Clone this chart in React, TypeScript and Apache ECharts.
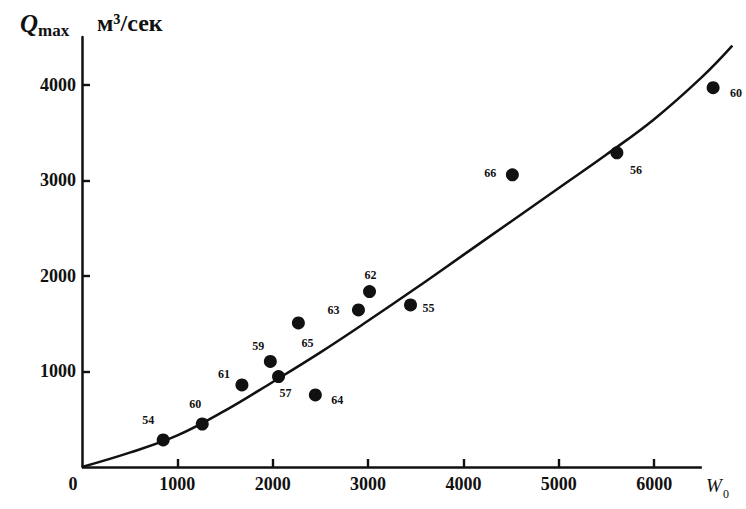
import React, { useEffect, useRef } from 'react';
import * as echarts from 'echarts';

// Observations: year labels, runoff volume W0, max discharge Qmax (m³/сек)
const pointNames = ['54', '60', '61', '59', '57', '65', '64', '63', '62', '55', '66', '56', '60'];
const pointW = [851, 1261, 1677, 1975, 2061, 2269, 2447, 2899, 3015, 3445, 4513, 5609, 6618];
const pointQ = [283, 450, 859, 1105, 946, 1508, 754, 1644, 1836, 1696, 3058, 3288, 3969];

// Fitted curve
const curveW = [0, 500, 1000, 1500, 2000, 2500, 3000, 3500, 4000, 4500, 5000, 5500, 6000, 6500, 6820];
const curveQ = [0, 150, 330, 590, 890, 1200, 1530, 1870, 2220, 2570, 2920, 3270, 3640, 4080, 4410];

// Axis tick labels
const xTickLabels = [0, 1000, 2000, 3000, 4000, 5000, 6000];
const xTicks = [1000, 2000, 3000, 4000, 5000, 6000];
const yTickLabels = [1000, 2000, 3000, 4000];
const xAxisEnd = 6500;

// Label placement (offset of each point label from its dot), styling only
const labelOffsets: number[][] = [
  [-15, -20], [-7, -20], [-18, -11], [-12, -15], [7, 16], [9, 20], [22, 5],
  [-25, 0], [1, -17], [18, 3], [-22, -2], [19, 17], [23, 5],
];

const SERIF = '"Liberation Serif", "DejaVu Serif", "Times New Roman", serif';
const INK = '#111111';

export default function App() {
  const ref = useRef<HTMLDivElement>(null);

  useEffect(() => {
    if (!ref.current) return;
    const chart = echarts.init(ref.current, null, { renderer: 'svg' });

    const option: any = {
      animation: false,
      backgroundColor: '#ffffff',
      grid: { left: 82, right: 6, top: 37, bottom: 42, containLabel: false },
      xAxis: {
        type: 'value',
        min: 0,
        max: 6900,
        interval: 1000,
        splitLine: { show: false },
        axisLine: { show: true, onZero: false, lineStyle: { color: 'rgba(0,0,0,0)', width: 1 } },
        axisTick: {
          show: true,
          inside: true,
          length: 8,
          lineStyle: { color: INK, width: 2.4 },
          customValues: xTicks,
        },
        axisLabel: {
          show: true,
          customValues: xTickLabels,
          color: INK,
          fontFamily: SERIF,
          fontSize: 18,
          fontWeight: 'bold',
          margin: 8,
          formatter: (v: number) => (v === 0 ? '{z|0}' : String(v)),
          rich: {
            z: { fontFamily: SERIF, fontSize: 18, fontWeight: 'bold', color: INK, padding: [0, 18, 0, 0] },
          },
        },
      },
      yAxis: {
        type: 'value',
        min: 0,
        max: 4500,
        interval: 1000,
        splitLine: { show: false },
        axisLine: { show: true, onZero: false, lineStyle: { color: INK, width: 2.5 } },
        axisTick: {
          show: true,
          inside: true,
          length: 8,
          lineStyle: { color: INK, width: 2.4 },
          customValues: yTickLabels,
        },
        axisLabel: {
          show: true,
          customValues: yTickLabels,
          color: INK,
          fontFamily: SERIF,
          fontSize: 18,
          fontWeight: 'bold',
          margin: 6,
          formatter: (v: number) => String(v),
        },
      },
      graphic: [
        { type: 'text', left: 20, top: 11, style: { text: 'Q', font: `italic bold 25px ${SERIF}`, fill: INK } },
        { type: 'text', left: 38, top: 22, style: { text: 'max', font: `bold 17px ${SERIF}`, fill: INK } },
        { type: 'text', left: 97, top: 11, style: { text: 'м³/сек', font: `bold 24px ${SERIF}`, fill: INK } },
        { type: 'text', left: 706, top: 476, style: { text: 'W', font: `italic 19px ${SERIF}`, fill: INK } },
        { type: 'text', left: 723, top: 488, style: { text: '0', font: `12px ${SERIF}`, fill: INK } },
      ],
      series: [
        {
          type: 'line',
          data: curveW.map((w, i) => [w, curveQ[i]]),
          smooth: 0.4,
          showSymbol: false,
          clip: false,
          lineStyle: { color: INK, width: 2.5 },
          z: 2,
          markLine: {
            silent: true,
            symbol: ['none', 'none'],
            label: { show: false },
            lineStyle: { color: INK, width: 2.5, type: 'solid' },
            data: [[{ coord: [0, 0] }, { coord: [xAxisEnd, 0] }]],
          },
        },
        {
          type: 'scatter',
          symbol: 'circle',
          symbolSize: 13,
          clip: false,
          itemStyle: { color: INK, opacity: 1 },
          z: 3,
          label: {
            show: true,
            position: 'inside',
            formatter: '{b}',
            color: INK,
            fontFamily: SERIF,
            fontSize: 12,
            fontWeight: 'bold',
          },
          data: pointW.map((w, i) => ({
            name: pointNames[i],
            value: [w, pointQ[i]],
            label: { offset: labelOffsets[i] },
          })),
        },
      ],
    };

    chart.setOption(option);
    return () => chart.dispose();
  }, []);

  return (
    <div
      ref={ref}
      style={{ position: 'fixed', left: 0, top: 0, width: 746, height: 509, background: '#fff' }}
    />
  );
}
